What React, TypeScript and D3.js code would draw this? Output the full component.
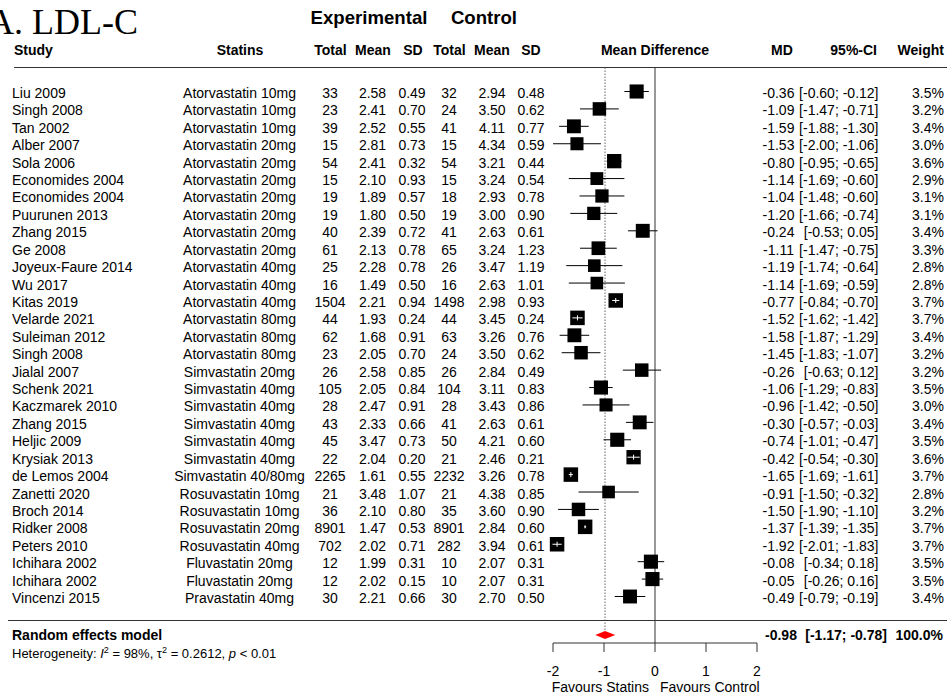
import React from "react";
import * as d3 from "d3";

const studies = ["Liu 2009","Singh 2008","Tan 2002","Alber 2007","Sola 2006","Economides 2004","Economides 2004","Puurunen 2013","Zhang 2015","Ge 2008","Joyeux-Faure 2014","Wu 2017","Kitas 2019","Velarde 2021","Suleiman 2012","Singh 2008","Jialal 2007","Schenk 2021","Kaczmarek 2010","Zhang 2015","Heljic 2009","Krysiak 2013","de Lemos 2004","Zanetti 2020","Broch 2014","Ridker 2008","Peters 2010","Ichihara 2002","Ichihara 2002","Vincenzi 2015"];
const statins = ["Atorvastatin 10mg","Atorvastatin 10mg","Atorvastatin 10mg","Atorvastatin 20mg","Atorvastatin 20mg","Atorvastatin 20mg","Atorvastatin 20mg","Atorvastatin 20mg","Atorvastatin 20mg","Atorvastatin 20mg","Atorvastatin 40mg","Atorvastatin 40mg","Atorvastatin 40mg","Atorvastatin 80mg","Atorvastatin 80mg","Atorvastatin 80mg","Simvastatin 20mg","Simvastatin 40mg","Simvastatin 40mg","Simvastatin 40mg","Simvastatin 40mg","Simvastatin 40mg","Simvastatin 40/80mg","Rosuvastatin 10mg","Rosuvastatin 10mg","Rosuvastatin 20mg","Rosuvastatin 40mg","Fluvastatin 20mg","Fluvastatin 20mg","Pravastatin 40mg"];
const expTotal = [33,23,39,15,54,15,19,19,40,61,25,16,1504,44,62,23,26,105,28,43,45,22,2265,21,36,8901,702,12,12,30];
const expMean = [2.58,2.41,2.52,2.81,2.41,2.10,1.89,1.80,2.39,2.13,2.28,1.49,2.21,1.93,1.68,2.05,2.58,2.05,2.47,2.33,3.47,2.04,1.61,3.48,2.10,1.47,2.02,1.99,2.02,2.21];
const expSD = [0.49,0.70,0.55,0.73,0.32,0.93,0.57,0.50,0.72,0.78,0.78,0.50,0.94,0.24,0.91,0.70,0.85,0.84,0.91,0.66,0.73,0.20,0.55,1.07,0.80,0.53,0.71,0.31,0.15,0.66];
const ctrlTotal = [32,24,41,15,54,15,18,19,41,65,26,16,1498,44,63,24,26,104,28,41,50,21,2232,21,35,8901,282,10,10,30];
const ctrlMean = [2.94,3.50,4.11,4.34,3.21,3.24,2.93,3.00,2.63,3.24,3.47,2.63,2.98,3.45,3.26,3.50,2.84,3.11,3.43,2.63,4.21,2.46,3.26,4.38,3.60,2.84,3.94,2.07,2.07,2.70];
const ctrlSD = [0.48,0.62,0.77,0.59,0.44,0.54,0.78,0.90,0.61,1.23,1.19,1.01,0.93,0.24,0.76,0.62,0.49,0.83,0.86,0.61,0.60,0.21,0.78,0.85,0.90,0.60,0.61,0.31,0.31,0.50];
const md = [-0.36,-1.09,-1.59,-1.53,-0.80,-1.14,-1.04,-1.20,-0.24,-1.11,-1.19,-1.14,-0.77,-1.52,-1.58,-1.45,-0.26,-1.06,-0.96,-0.30,-0.74,-0.42,-1.65,-0.91,-1.50,-1.37,-1.92,-0.08,-0.05,-0.49];
const ciLower = [-0.60,-1.47,-1.88,-2.00,-0.95,-1.69,-1.48,-1.66,-0.53,-1.47,-1.74,-1.69,-0.84,-1.62,-1.87,-1.83,-0.63,-1.29,-1.42,-0.57,-1.01,-0.54,-1.69,-1.50,-1.90,-1.39,-2.01,-0.34,-0.26,-0.79];
const ciUpper = [-0.12,-0.71,-1.30,-1.06,-0.65,-0.60,-0.60,-0.74,0.05,-0.75,-0.64,-0.59,-0.70,-1.42,-1.29,-1.07,0.12,-0.83,-0.50,-0.03,-0.47,-0.30,-1.61,-0.32,-1.10,-1.35,-1.83,0.18,0.16,-0.19];
const weights = [3.5,3.2,3.4,3.0,3.6,2.9,3.1,3.1,3.4,3.3,2.8,2.8,3.7,3.7,3.4,3.2,3.2,3.5,3.0,3.4,3.5,3.6,3.7,2.8,3.2,3.7,3.7,3.5,3.5,3.4];

const pooledMD = -0.98;
const pooledLower = -1.17;
const pooledUpper = -0.78;
const pooledWeight = "100.0%";
const heterogeneity = { i2: "98%", tau2: "0.2612", p: "< 0.01" };
const axisTicks = [-2, -1, 0, 1, 2];
const favourLabels = ["Favours Statins", "Favours Control"];

const SANS = "'Liberation Sans', Arial, Helvetica, sans-serif";
const SERIF = "'Liberation Serif', 'Times New Roman', serif";

const f2 = (v: number) => v.toFixed(2);
const ciText = (lo: number, hi: number) => `[${f2(lo)}; ${f2(hi)}]`;

export default function App() {
  const W = 947, H = 696;
  const x = d3.scaleLinear().domain([-2, 2]).range([553, 757]);
  const y = d3.scalePoint<number>().domain(d3.range(studies.length)).range([91.5, 596.5]);
  const size = d3.scaleSqrt().domain([0, 3.7]).range([0, 14.5]);
  const base = (i: number) => (y(i) as number) + 6.5;

  const headerY = 55;
  const lineTop = 67.5;
  const sumLineY = 620.5;
  const sumY = 635;
  const axisY = 643;

  const cols: { key: string; vals: (i: number) => string; x: number; anchor: string }[] = [
    { key: "statins", vals: (i) => statins[i], x: 239.5, anchor: "middle" },
    { key: "eT", vals: (i) => String(expTotal[i]), x: 330, anchor: "middle" },
    { key: "eM", vals: (i) => f2(expMean[i]), x: 372.5, anchor: "middle" },
    { key: "eS", vals: (i) => f2(expSD[i]), x: 412, anchor: "middle" },
    { key: "cT", vals: (i) => String(ctrlTotal[i]), x: 449, anchor: "middle" },
    { key: "cM", vals: (i) => f2(ctrlMean[i]), x: 492, anchor: "middle" },
    { key: "cS", vals: (i) => f2(ctrlSD[i]), x: 531, anchor: "middle" },
    { key: "md", vals: (i) => f2(md[i]), x: 778.5, anchor: "middle" },
    { key: "ci", vals: (i) => ciText(ciLower[i], ciUpper[i]), x: 878.5, anchor: "end" },
    { key: "w", vals: (i) => `${weights[i].toFixed(1)}%`, x: 944, anchor: "end" },
  ];

  const headers: { t: string; x: number; anchor: string }[] = [
    { t: "Study", x: 14, anchor: "start" },
    { t: "Statins", x: 240, anchor: "middle" },
    { t: "Total", x: 330.5, anchor: "middle" },
    { t: "Mean", x: 373, anchor: "middle" },
    { t: "SD", x: 413, anchor: "middle" },
    { t: "Total", x: 449.5, anchor: "middle" },
    { t: "Mean", x: 492, anchor: "middle" },
    { t: "SD", x: 531, anchor: "middle" },
    { t: "Mean Difference", x: 655, anchor: "middle" },
    { t: "MD", x: 782, anchor: "middle" },
    { t: "95%-CI", x: 877, anchor: "end" },
    { t: "Weight", x: 944, anchor: "end" },
  ];

  const x0 = x(0);
  const xp = x(pooledMD);

  return (
    <svg width={W} height={H} viewBox={`0 0 ${W} ${H}`}
      style={{ position: "absolute", left: 0, top: 0, background: "#fff" }}
      fontFamily={SANS}>
      <rect x={0} y={0} width={W} height={H} fill="#fff" />
      <text x={-12} y={34} fontFamily={SERIF} fontSize={36} fill="#000">A. LDL-C</text>

      <text x={369} y={24} fontSize={18.6} fontWeight="bold" textAnchor="middle">Experimental</text>
      <text x={484} y={24} fontSize={18.6} fontWeight="bold" textAnchor="middle">Control</text>

      {headers.map((h, k) => (
        <text key={k} x={h.x} y={headerY} fontSize={14} fontWeight="bold" textAnchor={h.anchor as any}>{h.t}</text>
      ))}
      <line x1={14} x2={947} y1={lineTop} y2={lineTop} stroke="#333" strokeWidth={1} />

      {/* reference lines */}
      <line x1={x0} x2={x0} y1={lineTop} y2={axisY} stroke="#333" strokeWidth={1} />
      <line x1={xp} x2={xp} y1={lineTop} y2={sumY - 4} stroke="#666" strokeWidth={1} strokeDasharray="1.5,1.5" />

      {studies.map((s, i) => (
        <g key={i}>
          <text x={12} y={base(i)} fontSize={14}>{s}</text>
          {cols.map((c) => (
            <text key={c.key} x={c.x} y={base(i)} fontSize={14} textAnchor={c.anchor as any}>{c.vals(i)}</text>
          ))}
        </g>
      ))}

      {studies.map((_, i) => {
        const cy = y(i) as number;
        const s = size(weights[i]);
        const cx = x(md[i]);
        const lx = x(ciLower[i]);
        const ux = x(ciUpper[i]);
        const inside = lx >= cx - s / 2 && ux <= cx + s / 2;
        const tick = Math.min(5, ux - lx + 1);
        return (
          <g key={"m" + i}>
            {!inside && <line x1={lx} x2={ux} y1={cy} y2={cy} stroke="#000" strokeWidth={1} />}
            <rect x={cx - s / 2} y={cy - s / 2} width={s} height={s} fill="#000" />
            {inside && (
              <g stroke="#fff" strokeWidth={1}>
                <line x1={lx} x2={ux} y1={cy} y2={cy} />
                <line x1={cx} x2={cx} y1={cy - tick / 2} y2={cy + tick / 2} />
              </g>
            )}
          </g>
        );
      })}

      <line x1={8} x2={947} y1={sumLineY} y2={sumLineY} stroke="#333" strokeWidth={1} />
      <text x={12} y={640} fontSize={14} fontWeight="bold">Random effects model</text>
      <text x={12} y={658} fontSize={13}>
        <tspan>Heterogeneity: </tspan>
        <tspan fontStyle="italic">I</tspan>
        <tspan fontSize={9} dy={-5}>2</tspan>
        <tspan dy={5}>{` = ${heterogeneity.i2}, τ`}</tspan>
        <tspan fontSize={9} dy={-5}>2</tspan>
        <tspan dy={5}>{` = ${heterogeneity.tau2}, `}</tspan>
        <tspan fontStyle="italic">p</tspan>
        <tspan>{` ${heterogeneity.p}`}</tspan>
      </text>

      <polygon
        points={[
          [x(pooledLower), sumY],
          [xp, sumY - 4],
          [x(pooledUpper), sumY],
          [xp, sumY + 4],
        ].map((p) => p.join(",")).join(" ")}
        fill="#ff0000"
      />
      <text x={781} y={640} fontSize={14} fontWeight="bold" textAnchor="middle">{f2(pooledMD)}</text>
      <text x={887} y={640} fontSize={14} fontWeight="bold" textAnchor="end">{ciText(pooledLower, pooledUpper)}</text>
      <text x={943} y={640} fontSize={14} fontWeight="bold" textAnchor="end">{pooledWeight}</text>

      {/* axis */}
      <line x1={x(-2)} x2={x(2)} y1={axisY} y2={axisY} stroke="#333" strokeWidth={1} />
      {axisTicks.map((t) => (
        <g key={t}>
          <line x1={x(t)} x2={x(t)} y1={axisY} y2={axisY + 9} stroke="#333" strokeWidth={1} />
          <text x={x(t)} y={676} fontSize={14} textAnchor="middle">{String(t)}</text>
        </g>
      ))}
      <text x={x0 - 6} y={692} fontSize={14} textAnchor="end">{favourLabels[0]}</text>
      <text x={x0 + 5} y={692} fontSize={14} textAnchor="start">{favourLabels[1]}</text>
    </svg>
  );
}
